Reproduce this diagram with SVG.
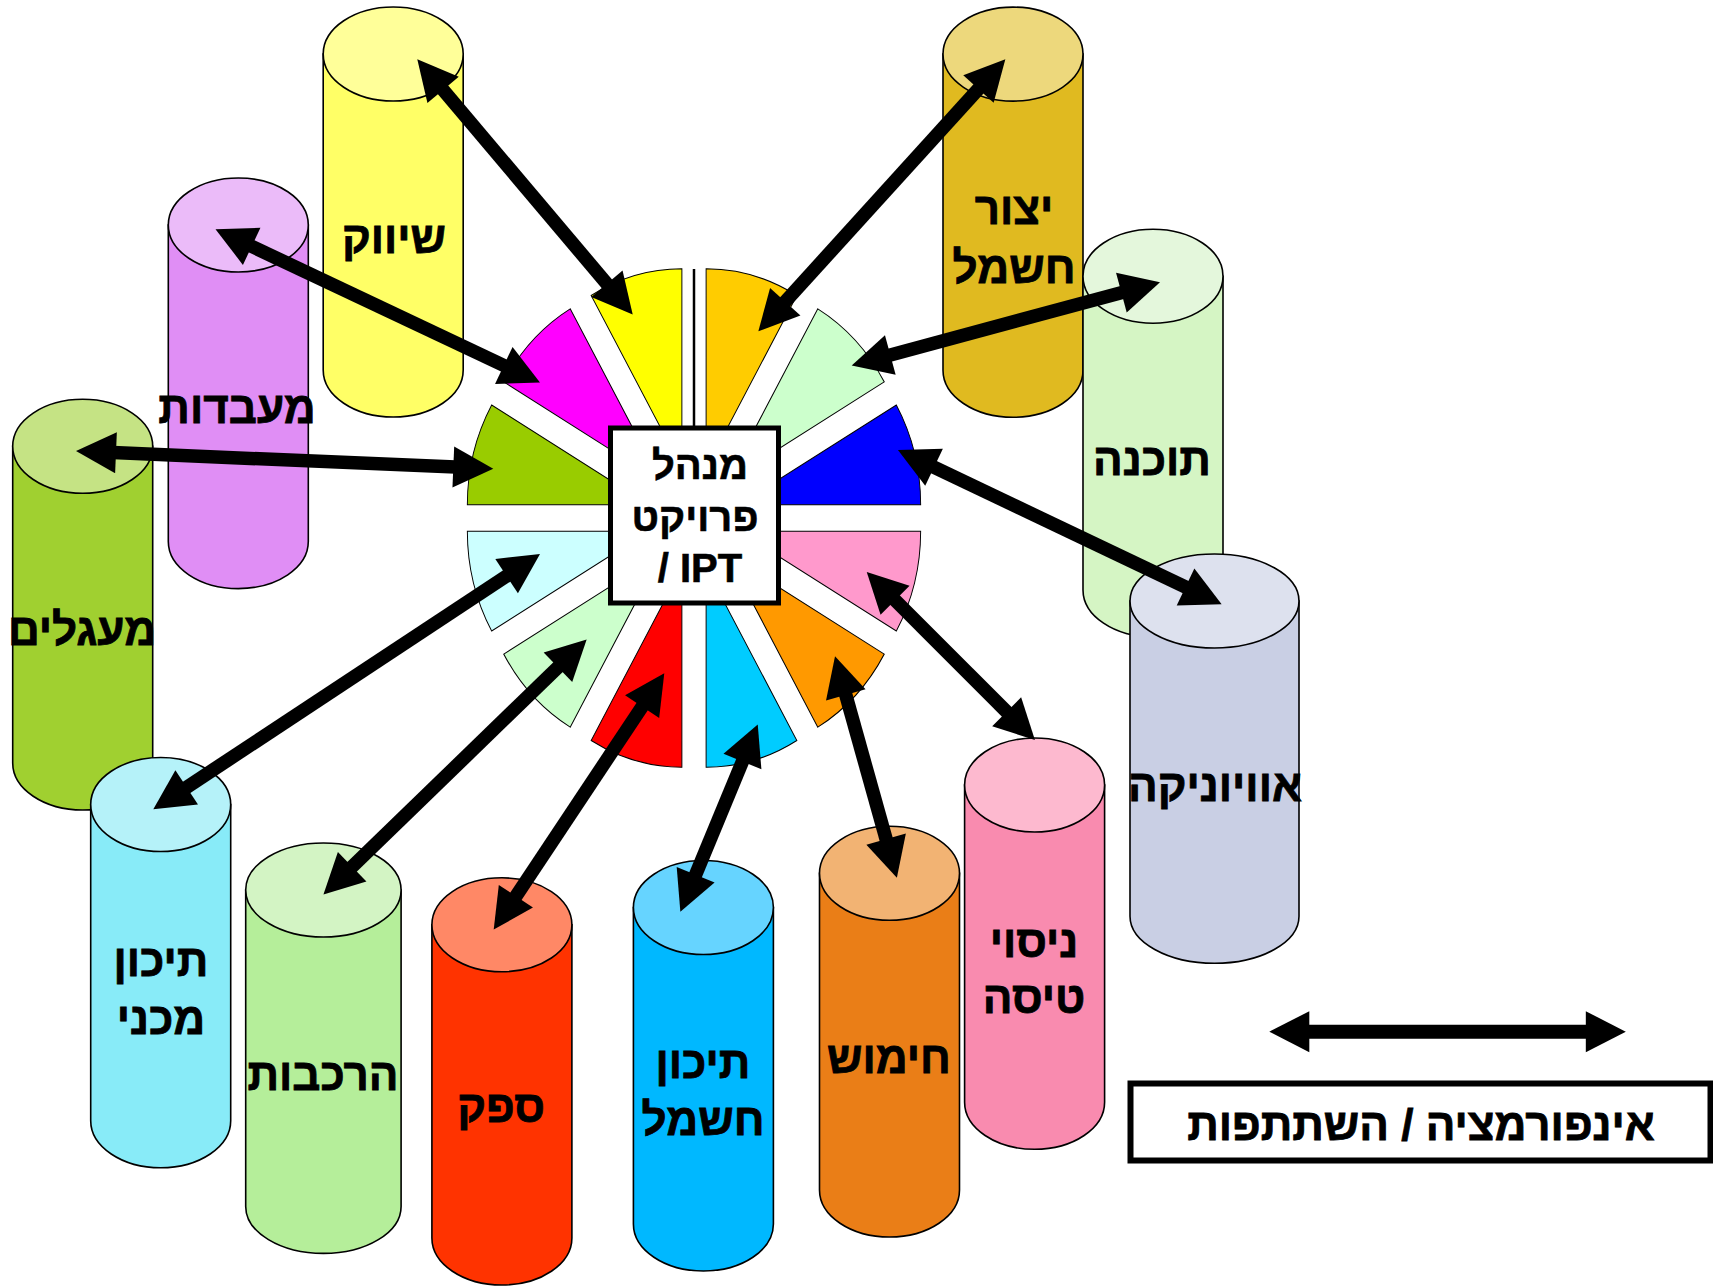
<svg xmlns="http://www.w3.org/2000/svg" xmlns:xlink="http://www.w3.org/1999/xlink" width="1713" height="1286" viewBox="0 0 1713 1286">
<style>
.cyl path, .cyl ellipse { stroke: #000; stroke-width: 1.6; }
.lbl { font-family: "Liberation Sans", "DejaVu Sans", sans-serif; font-weight: bold; font-size: 44px; fill: #000; stroke: #000; stroke-width: 0.8; text-anchor: middle; }
.box { font-family: "Liberation Sans", "DejaVu Sans", sans-serif; font-weight: bold; font-size: 40px; fill: #000; stroke: #000; stroke-width: 0.6; text-anchor: middle; }
.wedge { stroke: #000; stroke-width: 1; vector-effect: non-scaling-stroke; }
.arrow { stroke: #000; stroke-width: 13.5; fill: none; marker-start: url(#ah); marker-end: url(#ah); }
</style>
<defs>
<marker id="ah" viewBox="-22 -22 45 44" markerWidth="45" markerHeight="44" refX="0" refY="0" orient="auto-start-reverse" markerUnits="userSpaceOnUse" overflow="visible">
<path d="M-20,-20.5 L20,0 L-20,20.5 Z" fill="#000"/>
</marker>
<path id="w" d="M49,0 L232.53,-49.18 A190,190 0 0 1 232.53,49.18 Z"/>
</defs>
<rect width="1713" height="1286" fill="#fff"/>

<g id="cyl-shivuk" class="cyl">
<path d="M323.2,54 L323.2,370 A70,47 0 0 0 463.2,370 L463.2,54 Z" fill="#FFFF66"/>
<ellipse cx="393.2" cy="54" rx="70" ry="47" fill="#FFFF99"/>
<text class="lbl" x="394" y="253">שיווק</text>
</g>
<g id="cyl-maabadot" class="cyl">
<path d="M168.3,225 L168.3,541.6 A70,47 0 0 0 308.3,541.6 L308.3,225 Z" fill="#E08EF5"/>
<ellipse cx="238.3" cy="225" rx="70" ry="47" fill="#EBBBF9"/>
<text class="lbl" x="237" y="423">מעבדות</text>
</g>
<g id="cyl-maagalim" class="cyl">
<path d="M12.7,446.3 L12.7,763 A70,47 0 0 0 152.7,763 L152.7,446.3 Z" fill="#A0D030"/>
<ellipse cx="82.7" cy="446.3" rx="70" ry="47" fill="#C5E384"/>
<text class="lbl" x="82" y="645">מעגלים</text>
</g>
<g id="cyl-tichun-mechani" class="cyl">
<path d="M90.7,804.5 L90.7,1120.8 A70,47 0 0 0 230.7,1120.8 L230.7,804.5 Z" fill="#88EBF8"/>
<ellipse cx="160.7" cy="804.5" rx="70" ry="47" fill="#B5F2F9"/>
<text class="lbl" x="161" y="976">תיכון</text>
<text class="lbl" x="161" y="1034">מכני</text>
</g>
<g id="cyl-harkavot" class="cyl">
<path d="M245.7,890 L245.7,1206.4 A77.7,47 0 0 0 401.1,1206.4 L401.1,890 Z" fill="#B5EE9A"/>
<ellipse cx="323.4" cy="890" rx="77.7" ry="47" fill="#D3F4C4"/>
<text class="lbl" x="323" y="1090">הרכבות</text>
</g>
<g id="cyl-sapak" class="cyl">
<path d="M431.9,924.8 L431.9,1238 A70,47 0 0 0 571.9,1238 L571.9,924.8 Z" fill="#FF3300"/>
<ellipse cx="501.9" cy="924.8" rx="70" ry="47" fill="#FF8866"/>
<text class="lbl" x="501" y="1122">ספק</text>
</g>
<g id="cyl-tichun-chashmal" class="cyl">
<path d="M633.4,907.5 L633.4,1224 A70,47 0 0 0 773.4,1224 L773.4,907.5 Z" fill="#00B8FF"/>
<ellipse cx="703.4" cy="907.5" rx="70" ry="47" fill="#66D4FF"/>
<text class="lbl" x="703" y="1078">תיכון</text>
<text class="lbl" x="703" y="1135">חשמל</text>
</g>
<g id="cyl-chimush" class="cyl">
<path d="M819.5,873.3 L819.5,1190 A70,47 0 0 0 959.5,1190 L959.5,873.3 Z" fill="#EA7E17"/>
<ellipse cx="889.5" cy="873.3" rx="70" ry="47" fill="#F2B373"/>
<text class="lbl" x="889" y="1073">חימוש</text>
</g>
<g id="cyl-nisuy-tisa" class="cyl">
<path d="M964.6,785 L964.6,1102.3 A70,47 0 0 0 1104.6,1102.3 L1104.6,785 Z" fill="#F98BAF"/>
<ellipse cx="1034.6" cy="785" rx="70" ry="47" fill="#FDB9CF"/>
<text class="lbl" x="1034" y="957">ניסוי</text>
<text class="lbl" x="1034" y="1013">טיסה</text>
</g>
<g id="cyl-yitzur" class="cyl">
<path d="M943,54.1 L943,370.3 A70,47 0 0 0 1083,370.3 L1083,54.1 Z" fill="#E0BA20"/>
<ellipse cx="1013" cy="54.1" rx="70" ry="47" fill="#EDD87C"/>
<text class="lbl" x="1014" y="224">יצור</text>
<text class="lbl" x="1014" y="283">חשמל</text>
</g>
<g id="cyl-tochna" class="cyl">
<path d="M1083,276.2 L1083,590 A70,47 0 0 0 1223,590 L1223,276.2 Z" fill="#D5F5C4"/>
<ellipse cx="1153" cy="276.2" rx="70" ry="47" fill="#E4F7DC"/>
<text class="lbl" x="1152" y="475">תוכנה</text>
</g>
<g id="cyl-avionika" class="cyl">
<path d="M1130,601 L1130,916.3 A84.5,47 0 0 0 1299,916.3 L1299,601 Z" fill="#C9CFE4"/>
<ellipse cx="1214.5" cy="601" rx="84.5" ry="47" fill="#DDE1EE"/>
<text class="lbl" x="1215" y="801">אוויוניקה</text>
</g>

<g id="hub">
<g transform="translate(694,518) scale(0.955,1.05)">
<use xlink:href="#w" href="#w" class="wedge" transform="rotate(-105)" fill="#FFFF00"/>
<use xlink:href="#w" href="#w" class="wedge" transform="rotate(-135)" fill="#FF00FF"/>
<use xlink:href="#w" href="#w" class="wedge" transform="rotate(-165)" fill="#99CC00"/>
<use xlink:href="#w" href="#w" class="wedge" transform="rotate(165)" fill="#CCFFFF"/>
<use xlink:href="#w" href="#w" class="wedge" transform="rotate(135)" fill="#CCFFCC"/>
<use xlink:href="#w" href="#w" class="wedge" transform="rotate(105)" fill="#FF0000"/>
<use xlink:href="#w" href="#w" class="wedge" transform="rotate(75)" fill="#00CCFF"/>
<use xlink:href="#w" href="#w" class="wedge" transform="rotate(45)" fill="#FF9900"/>
<use xlink:href="#w" href="#w" class="wedge" transform="rotate(15)" fill="#FF99CC"/>
<use xlink:href="#w" href="#w" class="wedge" transform="rotate(-15)" fill="#0000FF"/>
<use xlink:href="#w" href="#w" class="wedge" transform="rotate(-45)" fill="#CCFFCC"/>
<use xlink:href="#w" href="#w" class="wedge" transform="rotate(-75)" fill="#FFCC00"/>
</g>
<line x1="694" y1="269" x2="694" y2="428" stroke="#000" stroke-width="2.5"/>
</g>

<g id="center-box">
<rect x="610.5" y="428" width="168" height="175" fill="#fff" stroke="#000" stroke-width="5"/>
<text class="box" x="700" y="479">מנהל</text>
<text class="box" x="695" y="531">פרויקט</text>
<text class="box" x="700" y="582">/ IPT</text>
</g>

<g id="connectors">
<line class="arrow" x1="430.2" y1="74.6" x2="619.8" y2="299.1"/>
<line class="arrow" x1="233.6" y1="237.8" x2="521.9" y2="374"/>
<line class="arrow" x1="96" y1="451.85" x2="473.3" y2="467.85"/>
<line class="arrow" x1="170" y1="798.3" x2="523.3" y2="565"/>
<line class="arrow" x1="337.8" y1="880.7" x2="572.3" y2="653.3"/>
<line class="arrow" x1="504.8" y1="912.9" x2="653.2" y2="690"/>
<line class="arrow" x1="688" y1="893.2" x2="750.1" y2="743"/>
<line class="arrow" x1="891.5" y1="858.4" x2="840.4" y2="675.6"/>
<line class="arrow" x1="1020.8" y1="725.9" x2="880.9" y2="586.1"/>
<line class="arrow" x1="1203.6" y1="595.7" x2="916" y2="458.6"/>
<line class="arrow" x1="1140.7" y1="287.4" x2="871" y2="360.2"/>
<line class="arrow" x1="991.9" y1="74.1" x2="771.8" y2="316.5"/>
</g>

<g id="legend">
<line class="arrow" x1="1289.3" y1="1031.7" x2="1605.8" y2="1031.7" style="stroke-width:14"/>
<rect x="1130.5" y="1083.5" width="580" height="77" fill="#fff" stroke="#000" stroke-width="6"/>
<text class="lbl" x="1421" y="1140">אינפורמציה / השתתפות</text>
</g>
</svg>
